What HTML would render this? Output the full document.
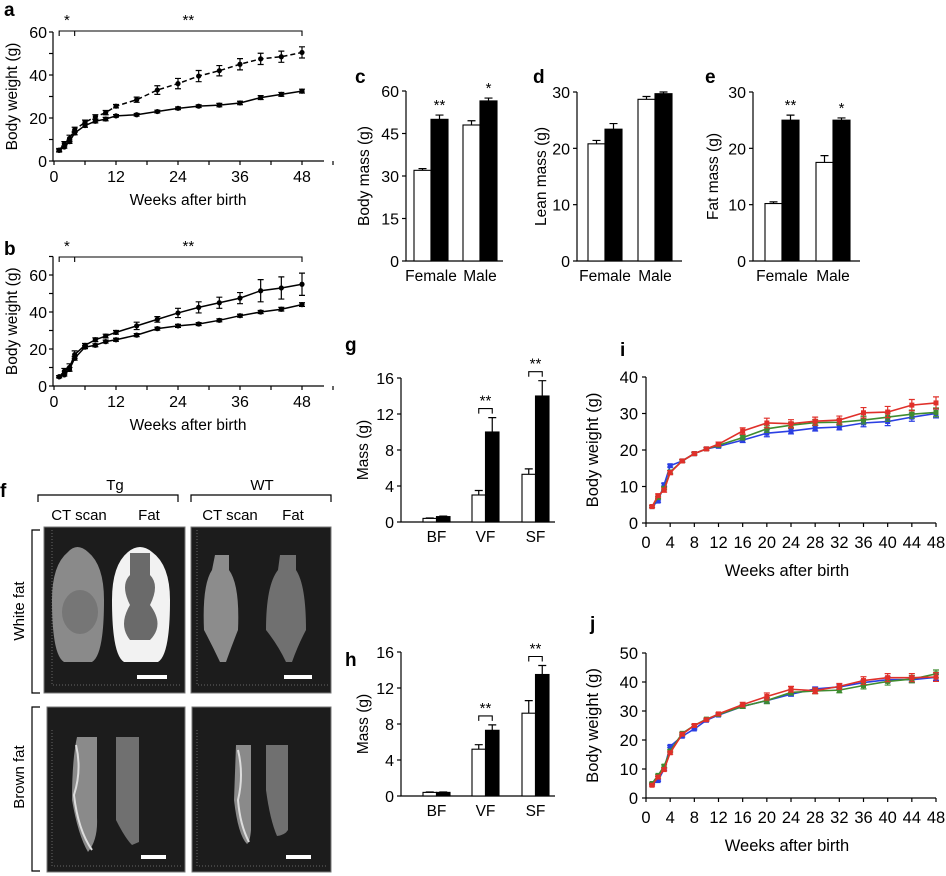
<!DOCTYPE html>
<html><head><meta charset="utf-8">
<style>
html,body{margin:0;padding:0;background:#fff;}
svg{display:block;font-family:"Liberation Sans",Arial,sans-serif;}
</style></head>
<body>
<svg id="fig" width="946" height="876" viewBox="0 0 946 876" xmlns="http://www.w3.org/2000/svg">
 <g id="panelF">
  <text x="0" y="497" font-size="19" font-weight="bold">f</text>
  <text x="115" y="490" font-size="15" text-anchor="middle">Tg</text>
  <text x="262" y="490" font-size="15" text-anchor="middle">WT</text>
  <path d="M38,502 V495 H178 V502" fill="none" stroke="#000" stroke-width="1.2"/>
  <path d="M191,502 V495 H331 V502" fill="none" stroke="#000" stroke-width="1.2"/>
  <text x="79" y="520" font-size="15" text-anchor="middle">CT scan</text>
  <text x="149" y="520" font-size="15" text-anchor="middle">Fat</text>
  <text x="230" y="520" font-size="15" text-anchor="middle">CT scan</text>
  <text x="293" y="520" font-size="15" text-anchor="middle">Fat</text>
  <path d="M40,530 H32 V693 H40" fill="none" stroke="#000" stroke-width="1.2"/>
  <path d="M40,707 H32 V871 H40" fill="none" stroke="#000" stroke-width="1.2"/>
  <text transform="translate(24,611) rotate(-90)" font-size="15" text-anchor="middle">White fat</text>
  <text transform="translate(24,777) rotate(-90)" font-size="15" text-anchor="middle">Brown fat</text>
  <g>
   <rect x="44" y="527" width="141" height="166" fill="#1c1c1c" stroke="#777"/>
   <path d="M52,530 V685 H182" fill="none" stroke="#666" stroke-dasharray="1,2"/>
   <path d="M68,552 Q77,542 88,552 Q104,565 104,600 Q104,655 92,662 H64 Q52,655 52,600 Q52,565 68,552Z" fill="#8a8a8a"/>
   <ellipse cx="80" cy="612" rx="18" ry="22" fill="#767676"/>
   <path d="M128,552 Q140,542 152,552 Q170,565 170,600 Q170,655 158,662 H124 Q112,655 112,600 Q112,565 128,552Z" fill="#f2f2f2"/>
   <path d="M130,553 H150 V575 Q160,585 150,605 Q165,625 150,640 H130 Q118,625 130,605 Q120,585 130,575Z" fill="#6a6a6a"/>
   <rect x="137" y="675" width="30" height="4" fill="#fff"/>
  </g>
  <g>
   <rect x="191" y="527" width="140" height="166" fill="#1c1c1c" stroke="#777"/>
   <path d="M197,530 V685 H328" fill="none" stroke="#666" stroke-dasharray="1,2"/>
   <path d="M215,555 H229 V570 Q240,585 238,630 Q232,645 226,662 H220 Q212,645 204,630 Q202,585 212,570Z" fill="#8c8c8c"/>
   <path d="M280,555 H296 V570 Q306,585 306,630 Q298,645 292,662 H286 Q278,645 266,630 Q266,585 278,570Z" fill="#707070"/>
   <rect x="284" y="675" width="28" height="4" fill="#fff"/>
  </g>
  <g>
   <rect x="47" y="707" width="138" height="165" fill="#1c1c1c" stroke="#777"/>
   <path d="M52,730 V866 H182" fill="none" stroke="#666" stroke-dasharray="1,2"/>
   <path d="M77,737 H97 V818 Q98,840 88,852 Q78,835 72,800 Q72,760 77,737Z" fill="#8a8a8a"/>
   <path d="M76,745 Q82,770 74,795 Q78,830 92,850" fill="none" stroke="#ddd" stroke-width="2"/>
   <path d="M116,737 H139 V842 L132,845 Q125,838 116,820Z" fill="#707070"/>
   <rect x="141" y="855" width="25" height="4" fill="#fff"/>
  </g>
  <g>
   <rect x="192" y="707" width="139" height="165" fill="#1c1c1c" stroke="#777"/>
   <path d="M197,730 V866 H328" fill="none" stroke="#666" stroke-dasharray="1,2"/>
   <path d="M236,745 H251 V830 Q250,842 247,844 Q238,835 234,800Z" fill="#8a8a8a"/>
   <path d="M238,750 Q244,775 238,800 Q240,825 249,842" fill="none" stroke="#ddd" stroke-width="2"/>
   <path d="M266,745 H288 V830 Q285,835 277,836 Q270,820 266,790Z" fill="#707070"/>
   <rect x="286" y="855" width="25" height="4" fill="#fff"/>
  </g>
 </g>
</svg>
<script>
// ---------- data ----------
const weeksAB = [1,2,3,4,6,8,10,12,16,20,24,28,32,36,40,44,48];
const aWT    = [5,6.5,9,13,16.5,18.5,19.5,21,21.5,23,24.5,25.5,26,27,29.5,31,32.5];
const aWTerr = [0.5,0.5,0.8,0.8,0.8,0.8,0.8,0.6,0.6,0.6,0.6,0.6,0.8,0.8,0.9,0.9,0.9];
const aTg    = [5,8,10.5,14.5,18,20.5,22.5,25.5,28.5,33,36,39.5,42,45,47.5,48.5,50.5];
const aTgErr = [0.8,1,1.5,1.2,1,1,1,0.8,1.2,2,2.4,2.6,2.4,2.6,2.6,2.6,2.6];
const bWT    = [5,6,9,15,21,22,24,25,27.5,31,32.5,33.5,35.5,38,40,41.5,44];
const bWTerr = [0.5,0.6,1,1,0.8,0.8,0.8,0.8,0.8,0.8,0.8,0.8,0.8,0.8,0.8,1,1];
const bTg    = [5,8,10,17,22,25,27,29,32.5,36,39.5,42.5,45,47.5,51.5,53,55];
const bTgErr = [0.6,1.5,2,2,1,1,1,1,2,1.5,2.5,3,3,3,6,6,6];

const barGroupsCDE = ["Female","Male"];
const cWhite = [32,48];   const cWhiteErr = [0.6,1.5];
const cBlack = [50,56.5]; const cBlackErr = [1.5,1];
const cStars = ["**","*"];
const dWhite = [20.8,28.7]; const dWhiteErr = [0.6,0.5];
const dBlack = [23.4,29.7]; const dBlackErr = [1,0.3];
const dStars = ["",""];
const eWhite = [10.2,17.5]; const eWhiteErr = [0.3,1.2];
const eBlack = [25,25];     const eBlackErr = [0.9,0.4];
const eStars = ["**","*"];
const cTicks = [0,15,30,45,60];
const dTicks = [0,10,20,30];
const eTicks = [0,10,20,30];

const fatGroups = ["BF","VF","SF"];
const gWhite = [0.4,3,5.3];  const gWhiteErr = [0.05,0.5,0.6];
const gBlack = [0.6,10,14];  const gBlackErr = [0.05,1.6,1.7];
const gStars = ["","**","**"];
const hWhite = [0.4,5.2,9.2]; const hWhiteErr = [0.05,0.5,1.4];
const hBlack = [0.4,7.3,13.5];const hBlackErr = [0.05,0.6,1];
const hStars = ["","**","**"];
const ghTicks = [0,4,8,12,16];

const weeksIJ = [1,2,3,4,6,8,10,12,16,20,24,28,32,36,40,44,48];
const iBlue  = [4.5,6,10.5,15.7,17,19,20.3,21,22.7,24.6,25.2,26,26.3,27.4,27.8,29,30];
const iGreen = [4.5,7,9.5,14,17,19,20.3,21.3,23.4,25.8,26.8,27.5,27.6,28.2,29,29.8,30.3];
const iRed   = [4.5,7.5,9,13.8,17,19,20.3,21.6,25.2,27.4,27.2,27.9,28.2,30.2,30.4,32.3,32.9];
const jBlue  = [4.8,6,10,17.8,21.3,23.8,26.8,28.6,31.6,33.6,35.8,37.6,38.3,39.8,40.8,40.8,41.6];
const jGreen = [5,7.8,11,16.2,22.3,25,27.2,28.8,31.6,33.6,36.4,36.9,37.2,38.8,40.2,41,42.8];
const jRed   = [4.4,7.2,9.8,15.6,22,25,27,29,32.2,35,37.5,37,38.5,40.5,41.5,41.5,41.7];
const ijErr  = [0.3,0.4,0.5,0.5,0.4,0.4,0.4,0.5,0.8,1.2,1.0,1.0,1.0,1.3,1.4,1.4,1.5];
const iTicks = [0,10,20,30,40];
const jTicks = [0,10,20,30,40,50];
const ijXTicks = [0,4,8,12,16,20,24,28,32,36,40,44,48];
const abXTicks = [0,12,24,36,48];

// ---------- helpers ----------
const NS = "http://www.w3.org/2000/svg";
const fig = document.getElementById("fig");
function mk(tag, attrs, parent){
  const el = document.createElementNS(NS, tag);
  for (const k in attrs) el.setAttribute(k, attrs[k]);
  (parent||fig).appendChild(el);
  return el;
}
function txt(parent, x, y, s, size, anchor, extra){
  const t = mk("text", Object.assign({x:x, y:y, "font-size":size, "text-anchor":anchor||"middle"}, extra||{}), parent);
  t.textContent = s;
  return t;
}
function group(name){
  const g = mk("g", {});
  
  
  return g;
}
function errBar(g, x, y1, y2, color, cap){
  const e = mk("path", {d:`M${x},${y1} V${y2} M${x-cap},${y2} H${x+cap}`, stroke:color, "stroke-width":1.2, fill:"none"}, g);
  
  
}

function lineAB(name, label, lx, ly, X0, X1, Y0v, Ypx0, Ypx1, Ymax, yTicks, yLabelEvery, series, bracketY, starY){
  const g = group(name);
  const xs = v => X0 + v*(X1-X0)/48;
  const ys = v => Ypx0 - v*(Ypx0-Ypx1)/Ymax;
  const lab = txt(g, lx, ly, label, 19, "start", {"font-weight":"bold"});
  
  
  const axTop = ys(yTicks[yTicks.length-1]);
  const ax = mk("path", {d:`M${X0-1},${axTop} V${Ypx0} H${X0+270}`, stroke:"#000", "stroke-width":1.2, fill:"none"}, g);
  
  
  yTicks.forEach((v,i)=>{
    mk("path", {d:`M${X0-1},${ys(v)} H${X0-5}`, stroke:"#000", "stroke-width":1.2}, g);
    if (v % yLabelEvery === 0) {
      const t = txt(g, X0-7, ys(v)+6, v, 16, "end");
      
      
    }
  });
  for (let w=0; w<=54; w+=6) mk("path", {d:`M${xs(w)},${Ypx0} V${Ypx0+4}`, stroke:"#000", "stroke-width":1.2}, g);
  abXTicks.forEach(v=>{
    const t = txt(g, xs(v), Ypx0+21, v, 16);
    
    
  });
  const xt = txt(g, 188, Ypx0+44, "Weeks after birth", 15.5);
  
  
  const yt = txt(g, 0, 0, "Body weight (g)", 15.5, "middle", {transform:`translate(17,${(Ypx0+axTop)/2}) rotate(-90)`});
  
  
  const br = mk("path", {d:`M${xs(1)},${bracketY+5} V${bracketY} H${xs(48)} V${bracketY+5} M${xs(4)},${bracketY} V${bracketY+5}`, stroke:"#000", "stroke-width":1.1, fill:"none"}, g);
  
  
  const s1 = txt(g, xs(2.5), starY, "*", 15);
  
  
  const s2 = txt(g, xs(26), starY, "**", 15);
  
  
  series.forEach(s=>{
    const pts = weeksAB.map((w,i)=>`${xs(w)},${ys(s.v[i])}`).join(" ");
    const pl = mk("polyline", {points:pts, fill:"none", stroke:"#000", "stroke-width":1.5, "stroke-dasharray":s.dash||"none"}, g);
    
    
    weeksAB.forEach((w,i)=>{
      const x = xs(w), y = ys(s.v[i]);
      errBar(g, x, y, ys(s.v[i]+s.e[i]), "#000", 3);
      errBar(g, x, y, ys(s.v[i]-s.e[i]), "#000", 3);
      const c = mk("circle", {cx:x, cy:y, r:2.6, fill:"#000"}, g);
      
      
    });
  });
}
lineAB("panel-a-chart","a",4,16,54,302,0,161,32,60,[0,10,20,30,40,50,60],20,
  [{name:"wt-line", v:aWT, e:aWTerr},{name:"tg-line", v:aTg, e:aTgErr, dash:"5,3"}], 31, 25);
lineAB("panel-b-chart","b",4,255,54,302,0,386,275,60,[0,10,20,30,40,50,60,70],20,
  [{name:"wt-line", v:bWT, e:bWTerr},{name:"tg-line", v:bTg, e:bTgErr}], 257, 251);

function barChart(o){
  const g = group(o.name);
  const ys = v => o.y0 - v*(o.y0-o.yTop)/o.ymax;
  const lab = txt(g, o.lx, o.ly, o.label, 19, "start", {"font-weight":"bold"});
  
  
  const ax = mk("path", {d:`M${o.x0},${o.yTop} V${o.y0} H${o.xEnd}`, stroke:"#000", "stroke-width":1.2, fill:"none"}, g);
  
  
  o.ticks.forEach(v=>{
    mk("path", {d:`M${o.x0},${ys(v)} H${o.x0-4}`, stroke:"#000", "stroke-width":1.2}, g);
    const t = txt(g, o.x0-7, ys(v)+6, v, 16, "end");
    
    
  });
  const yt = txt(g, 0, 0, o.ytitle, 15.5, "middle", {transform:`translate(${o.ytx},${(o.y0+o.yTop)/2}) rotate(-90)`});
  
  
  o.cats.forEach((c,i)=>{
    const gx = o.gx[i];
    [[o.white,o.whiteErr,"#fff",gx],[o.black,o.blackErr,"#000",gx+o.bw]].forEach(([vals,errs,fill,x])=>{
      const y = ys(vals[i]);
      errBar(g, x+o.bw/2, y, ys(vals[i]+errs[i]), "#000", 4);
      const r = mk("rect", {x:x, y:y, width:o.bw, height:o.y0-y, fill:fill, stroke:"#000", "stroke-width":1.1}, g);
      
      
    });
    const cl = txt(g, gx+o.bw, o.y0+20, c, 15.5);
    
    
    if (o.stars[i]) {
      if (o.bracket) {
        const top = ys(o.black[i]+o.blackErr[i]) - 9;
        const bk = mk("path", {d:`M${gx+o.bw/2},${top+5} V${top} H${gx+o.bw*1.5} V${top+5}`, stroke:"#000", "stroke-width":1.1, fill:"none"}, g);
        
        
        const st = txt(g, gx+o.bw, top-3, o.stars[i], 15);
        
        
      } else {
        const st = txt(g, gx+o.bw*1.5, ys(o.black[i]+o.blackErr[i])-5, o.stars[i], 15);
        
        
      }
    }
  });
}
barChart({name:"panel-c-chart",label:"c",lx:355,ly:83,x0:406,xEnd:503,y0:261,yTop:91,ymax:60,ticks:cTicks,ytitle:"Body mass (g)",ytx:369,
  cats:barGroupsCDE,gx:[414,463],bw:17,white:cWhite,whiteErr:cWhiteErr,black:cBlack,blackErr:cBlackErr,stars:cStars});
barChart({name:"panel-d-chart",label:"d",lx:533,ly:83,x0:577,xEnd:682,y0:261,yTop:92,ymax:30,ticks:dTicks,ytitle:"Lean mass (g)",ytx:546,
  cats:barGroupsCDE,gx:[588,638],bw:17,white:dWhite,whiteErr:dWhiteErr,black:dBlack,blackErr:dBlackErr,stars:dStars});
barChart({name:"panel-e-chart",label:"e",lx:705,ly:83,x0:753,xEnd:860,y0:261,yTop:92,ymax:30,ticks:eTicks,ytitle:"Fat mass (g)",ytx:718,
  cats:barGroupsCDE,gx:[765,816],bw:17,white:eWhite,whiteErr:eWhiteErr,black:eBlack,blackErr:eBlackErr,stars:eStars});
barChart({name:"panel-g-chart",label:"g",lx:345,ly:351,x0:401,xEnd:555,y0:522,yTop:378,ymax:16,ticks:ghTicks,ytitle:"Mass (g)",ytx:368,
  cats:fatGroups,gx:[423,472,522],bw:13.5,white:gWhite,whiteErr:gWhiteErr,black:gBlack,blackErr:gBlackErr,stars:gStars,bracket:true});
barChart({name:"panel-h-chart",label:"h",lx:345,ly:666,x0:401,xEnd:555,y0:796,yTop:652,ymax:16,ticks:ghTicks,ytitle:"Mass (g)",ytx:368,
  cats:fatGroups,gx:[423,472,522],bw:13.5,white:hWhite,whiteErr:hWhiteErr,black:hBlack,blackErr:hBlackErr,stars:hStars,bracket:true});

function lineIJ(name, label, lx, ly, y0, yTop, ymax, ticks, series){
  const g = group(name);
  const X0 = 646, X1 = 936;
  const xs = v => X0 + v*(X1-X0)/48;
  const ys = v => y0 - v*(y0-yTop)/ymax;
  const lab = txt(g, lx, ly, label, 19, "start", {"font-weight":"bold"});
  
  
  const ax = mk("path", {d:`M${X0},${yTop} V${y0} H${X1}`, stroke:"#000", "stroke-width":1.2, fill:"none"}, g);
  
  
  ticks.forEach(v=>{
    mk("path", {d:`M${X0},${ys(v)} H${X0-4}`, stroke:"#000", "stroke-width":1.2}, g);
    const t = txt(g, X0-8, ys(v)+6, v, 16.5, "end");
    
    
  });
  ijXTicks.forEach(v=>{
    mk("path", {d:`M${xs(v)},${y0} V${y0+4}`, stroke:"#000", "stroke-width":1.2}, g);
    const t = txt(g, xs(v), y0+25, v, 16.5);
    
    
  });
  const xt = txt(g, 787, y0+53, "Weeks after birth", 16.5);
  
  
  const yt = txt(g, 0, 0, "Body weight (g)", 16.5, "middle", {transform:`translate(598,${(y0+yTop)/2}) rotate(-90)`});
  
  
  series.forEach(s=>{
    const pts = weeksIJ.map((w,i)=>`${xs(w)},${ys(s.v[i])}`).join(" ");
    const pl = mk("polyline", {points:pts, fill:"none", stroke:s.c, "stroke-width":1.6}, g);
    
    
    weeksIJ.forEach((w,i)=>{
      const x = xs(w), y = ys(s.v[i]);
      errBar(g, x, y, ys(s.v[i]+ijErr[i]*s.ef), s.c, 3);
      errBar(g, x, y, ys(s.v[i]-ijErr[i]*s.ef), s.c, 3);
      const m = mk("rect", {x:x-2.5, y:y-2.5, width:5, height:5, fill:s.c}, g);
      
      
    });
  });
}
lineIJ("panel-i-chart","i",620,356,523,377,40,iTicks,[
  {name:"blue-line",v:iBlue,c:"#2b3fe3",ef:0.8},{name:"green-line",v:iGreen,c:"#3f8c30",ef:0.8},{name:"red-line",v:iRed,c:"#e0302a",ef:1.1}]);
lineIJ("panel-j-chart","j",590,630,798,653,50,jTicks,[
  {name:"blue-line",v:jBlue,c:"#2b3fe3",ef:0.7},{name:"green-line",v:jGreen,c:"#3f8c30",ef:0.9},{name:"red-line",v:jRed,c:"#e0302a",ef:1.0}]);
</script>
</body></html>
